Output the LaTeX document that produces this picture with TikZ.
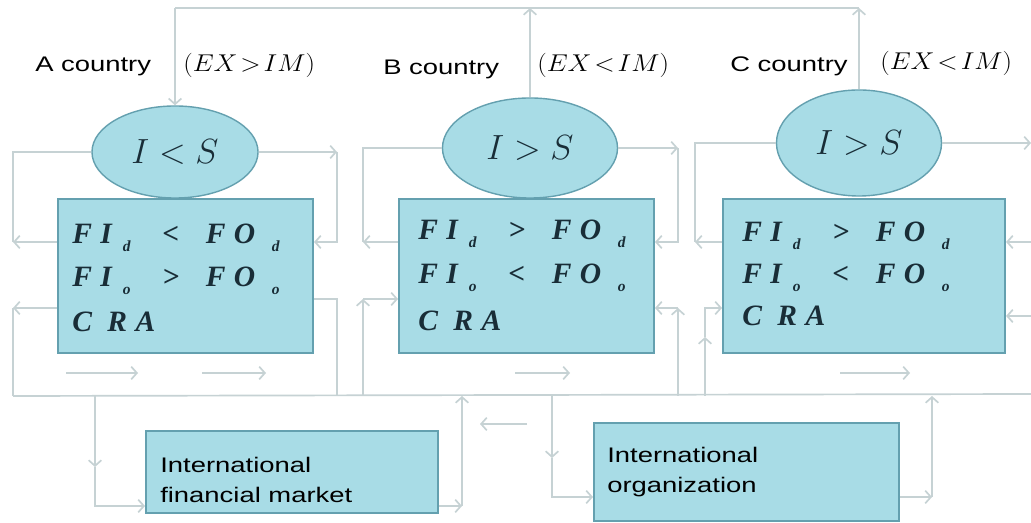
\documentclass[tikz,border=0pt]{standalone}
\usepackage{fontspec}
\setmainfont{Liberation Serif}
\setsansfont{Liberation Sans}
\usepackage{graphicx}
\usetikzlibrary{arrows.meta, positioning, calc, shapes.geometric}

\definecolor{boxfill}{RGB}{168,220,230}
\definecolor{boxline}{RGB}{100,160,175}
\definecolor{wirecol}{RGB}{198,210,212}
\definecolor{ink}{RGB}{25,45,55}

\newcommand{\wide}[1]{\scalebox{1.3}[1]{#1}}
\newcommand{\subx}[1]{\raisebox{-5pt}{\fontsize{11}{11}\selectfont #1}}
\newcommand{\fxline}[3]{\makebox[20pt][l]{F}\makebox[16pt][l]{I}\makebox[28pt][l]{\subx{#1}}\makebox[31pt][l]{#2}\makebox[20pt][l]{F}\makebox[27pt][l]{O}\subx{#3}}
\newcommand{\cra}{\makebox[25pt][l]{C}\makebox[20pt][l]{R}A}

\begin{document}
\begin{tikzpicture}[x=0.025cm, y=-0.025cm,
    wire/.style={draw=wirecol, line width=1.2pt},
    flow/.style={wire, -{Straight Barb[length=4pt,width=9pt]}},
    ovalnode/.style={ellipse, draw=boxline, fill=boxfill, line width=1pt, inner sep=0pt, text=ink, font=\fontsize{34}{34}\selectfont},
    panel/.style={rectangle, draw=boxline, fill=boxfill, line width=1.4pt, inner sep=0pt, anchor=north west},
    fxrow/.style={anchor=base west, inner sep=0pt, text=ink, font=\fontsize{21}{21}\selectfont\bfseries\itshape},
    tag/.style={anchor=base west, inner sep=0pt, font=\fontsize{15}{15}\selectfont\sffamily},
    cond/.style={anchor=base west, inner sep=0pt, font=\fontsize{17}{17}\selectfont},
    inst/.style={anchor=north west, inner sep=0pt, align=left, font=\fontsize{15}{21}\selectfont\sffamily}]
  \path[use as bounding box, fill=white] (0,0) rectangle (1031,523);

  % A country
  \node[ovalnode, minimum width=4.15cm, minimum height=2.3cm] (ellA) at (175,152) {$I<S$};
  \node[panel, minimum width=6.375cm, minimum height=3.85cm] (boxA) at (57,198) {};
  \node[tag] (tagA) at (35,72) {\wide{A country}};
  \node[cond] (condA) at (183,72) {\scalebox{1.1}[1]{$(EX\!>\!IM)$}};
  \node[fxrow] (a1) at ($(boxA.north west)+(15,46)$) {\fxline{d}{<}{d}};
  \node[fxrow] (a2) at ($(boxA.north west)+(15,89)$) {\fxline{o}{>}{o}};
  \node[fxrow] (a3) at ($(boxA.north west)+(15,134)$) {\cra};

  % B country
  \node[ovalnode, minimum width=4.375cm, minimum height=2.5cm] (ellB) at (530,148) {$I>S$};
  \node[panel, minimum width=6.375cm, minimum height=3.85cm] (boxB) at (398,198) {};
  \node[tag] (tagB) at (383,75) {\wide{B country}};
  \node[cond] (condB) at (537,72) {\scalebox{1.1}[1]{$(EX\!<\!IM)$}};
  \node[fxrow] (b1) at ($(boxB.north west)+(20,42)$) {\fxline{d}{>}{d}};
  \node[fxrow] (b2) at ($(boxB.north west)+(20,86)$) {\fxline{o}{<}{o}};
  \node[fxrow] (b3) at ($(boxB.north west)+(20,133)$) {\cra};

  % C country
  \node[ovalnode, minimum width=4.125cm, minimum height=2.65cm] (ellC) at (859,143) {$I>S$};
  \node[panel, minimum width=7.05cm, minimum height=3.85cm] (boxC) at (722,198) {};
  \node[tag] (tagC) at (730,72) {\wide{C country}};
  \node[cond] (condC) at (880,70) {\scalebox{1.1}[1]{$(EX\!<\!IM)$}};
  \node[fxrow] (c1) at ($(boxC.north west)+(20,44)$) {\fxline{d}{>}{d}};
  \node[fxrow] (c2) at ($(boxC.north west)+(20,86)$) {\fxline{o}{<}{o}};
  \node[fxrow] (c3) at ($(boxC.north west)+(20,128)$) {\cra};

  % Bottom boxes
  \node[panel, minimum width=7.3cm, minimum height=2.05cm] (ifm) at (145,430) {};
  \node[inst] (ifmtext) at (160,457) {\wide{International}\\\wide{financial market}};
  \node[panel, minimum width=7.625cm, minimum height=2.45cm] (io) at (593,422) {};
  \node[inst] (iotext) at (607,447) {\wide{International}\\\wide{organization}};

  % Top line
  \coordinate (topA) at (ellA.north |- 0,8);
  \coordinate (topC) at (ellC.north |- 0,8);
  \draw[wire] (topA) -- (topC);
  \draw[flow] (topA) -- (ellA.north);
  \draw[flow] (ellB.north) -- (ellB.north |- topA);
  \draw[flow] (ellC.north) -- (topC);

  % Bus line
  \coordinate (busL) at (13,396);
  \coordinate (busR) at (1031,394);
  \draw[wire] (busL) -- (busR);

  % Loops of A
  \coordinate (aL1) at (13,242);
  \coordinate (aR1) at (337,242);
  \coordinate (aL2) at (13,308);
  \coordinate (aR2) at (337,299);
  \draw[wire] (ellA.west) -| (aL1);
  \draw[flow] (boxA.west |- aL1) -- (aL1);
  \draw[flow] (ellA.east) -- (ellA.east -| aR1);
  \draw[flow] (ellA.east -| aR1) -- (aR1) -- (boxA.east |- aR1);
  \draw[flow] (boxA.west |- aL2) -- (aL2);
  \draw[wire] (aL2) -- (busL);
  \draw[wire] (boxA.east |- aR2) -| (aR2 |- busL);

  % Loops of B
  \coordinate (bL1) at (363,242);
  \coordinate (bR1) at (678,242);
  \coordinate (bL2) at (363,299);
  \coordinate (bR2) at (678,308);
  \draw[wire] (ellB.west) -| (bL1);
  \draw[flow] (boxB.west |- bL1) -- (bL1);
  \draw[flow] (ellB.east) -- (ellB.east -| bR1);
  \draw[flow] (ellB.east -| bR1) -- (bR1) -- (boxB.east |- bR1);
  \draw[flow] (bL2 |- busL) -- (bL2);
  \draw[flow] (bL2) -- (boxB.west |- bL2);
  \draw[flow] (bR2 |- busL) -- (bR2);
  \draw[flow] (bR2) -- (boxB.east |- bR2);

  % Loops of C
  \coordinate (cL1) at (695,242);
  \coordinate (cL2) at (705,308);
  \coordinate (cR0) at (1031,143);
  \coordinate (cR1) at (1031,242);
  \coordinate (cR2) at (1031,316);
  \draw[wire] (ellC.west) -| (cL1);
  \draw[flow] (boxC.west |- cL1) -- (cL1);
  \draw[flow] (ellC.east) -- (cR0);
  \draw[flow] (cR1) -- (boxC.east |- cR1);
  \draw[flow] (cR2) -- (boxC.east |- cR2);
  \draw[flow] (cL2 |- busL) -- (705,337);
  \draw[flow] (705,337) -- (cL2) -- (boxC.west |- cL2);

  % Short arrows under the boxes
  \draw[flow] (66,373) -- (138,373);
  \draw[flow] (202,373) -- (266,373);
  \draw[flow] (515,373) -- (570,373);
  \draw[flow] (840,373) -- (910,373);
  \draw[flow] (527,424) -- (480,424);

  % Financial market
  \coordinate (fin) at (95,506);
  \coordinate (fout) at (462,506);
  \draw[flow] (fin |- busL) -- (95,467);
  \draw[flow] (95,467) -- (fin) -- (ifm.west |- fin);
  \draw[flow] (ifm.east |- fout) -- (fout);
  \draw[flow] (fout) -- (fout |- busL);

  % Organization
  \coordinate (oin) at (552,497);
  \coordinate (oout) at (932,497);
  \draw[flow] (oin |- busL) -- (552,458);
  \draw[flow] (552,458) -- (oin) -- (io.west |- oin);
  \draw[flow] (io.east |- oout) -- (oout);
  \draw[flow] (oout) -- (oout |- busL);
\end{tikzpicture}
\end{document}
